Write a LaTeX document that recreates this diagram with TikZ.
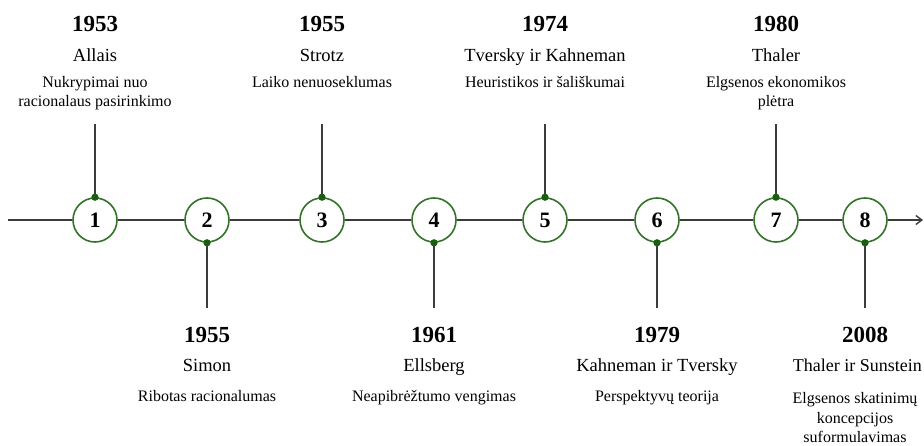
\documentclass[tikz,border=0pt]{standalone}
\usepackage{fontspec}
\setmainfont{Liberation Serif}
\usetikzlibrary{arrows.meta}
\definecolor{ringgreen}{RGB}{50,115,40}
\definecolor{dotgreen}{RGB}{25,95,15}
\definecolor{linegray}{RGB}{60,60,60}
\tikzset{
  ev/.style={circle, draw=ringgreen, line width=1.6pt, fill=white, minimum size=44pt, inner sep=0pt, font=\fontsize{22}{24}\selectfont\bfseries},
  gdot/.style={circle, fill=dotgreen, minimum size=7pt, inner sep=0pt},
  axis/.style={draw=linegray, line width=1.6pt},
  stem/.style={draw=linegray, line width=1.6pt},
  yr/.style={anchor=base, inner sep=0pt, font=\fontsize{23}{25}\selectfont\bfseries},
  nm/.style={anchor=base, inner sep=0pt, font=\fontsize{18.5}{20}\selectfont},
  ds/.style={anchor=base, inner sep=0pt, font=\fontsize{16}{18}\selectfont},
}
\begin{document}
\begin{tikzpicture}[x=1pt,y=-1pt]
\useasboundingbox (0,0) rectangle (924,446);
% events
\foreach \i/\x in {1/95,2/207,3/322,4/434,5/545,6/657,7/776,8/865}{
  \node[ev] (c\i) at (\x,220) {\i};
}
% axis
\coordinate (start) at (8,220);
\coordinate (end) at (923,220);
\draw[axis] (start) -- (c1);
\draw[axis] (c1) -- (c2);
\draw[axis] (c2) -- (c3);
\draw[axis] (c3) -- (c4);
\draw[axis] (c4) -- (c5);
\draw[axis] (c5) -- (c6);
\draw[axis] (c6) -- (c7);
\draw[axis] (c7) -- (c8);
\draw[axis,-{Straight Barb[length=6pt,width=9pt,line width=1.4pt]}] (c8) -- (end);
% stems up
\foreach \i/\x in {1/95,3/322,5/545,7/776}{
  \coordinate (t\i) at (\x,124);
  \node[gdot] (d\i) at (c\i.north) {};
  \draw[stem] (t\i) -- (d\i.center);
  \node[gdot] at (c\i.north) {};
}
% stems down
\foreach \i/\x in {2/207,4/434,6/657,8/865}{
  \coordinate (t\i) at (\x,308);
  \node[gdot] (d\i) at (c\i.south) {};
  \draw[stem] (t\i) -- (d\i.center);
  \node[gdot] at (c\i.south) {};
}
% top labels
\node[yr] (y1) at (95,32) {1953};
\node[nm] (n1) at (95,62) {Allais};
\node[ds] (a1) at (95,88) {Nukrypimai nuo};
\node[ds] (b1) at (95,107) {racionalaus pasirinkimo};

\node[yr] (y3) at (322,32) {1955};
\node[nm] (n3) at (322,62) {Strotz};
\node[ds] (a3) at (322,88) {Laiko nenuoseklumas};

\node[yr] (y5) at (545,32) {1974};
\node[nm] (n5) at (545,62) {Tversky ir Kahneman};
\node[ds] (a5) at (545,88) {Heuristikos ir šališkumai};

\node[yr] (y7) at (776,32) {1980};
\node[nm] (n7) at (776,62) {Thaler};
\node[ds] (a7) at (776,88) {Elgsenos ekonomikos};
\node[ds] (b7) at (776,107) {plėtra};
% bottom labels
\node[yr] (y2) at (207,343) {1955};
\node[nm] (n2) at (207,371) {Simon};
\node[ds] (a2) at (207,401) {Ribotas racionalumas};

\node[yr] (y4) at (434,343) {1961};
\node[nm] (n4) at (434,371) {Ellsberg};
\node[ds] (a4) at (434,401) {Neapibrėžtumo vengimas};

\node[yr] (y6) at (657,343) {1979};
\node[nm] (n6) at (657,371) {Kahneman ir Tversky};
\node[ds] (a6) at (657,401) {Perspektyvų teorija};

\node[yr] (y8) at (865,343) {2008};
\node[nm, anchor=base east, font=\fontsize{18}{20}\selectfont] (n8) at (922,371) {Thaler ir Sunstein};
\node[ds] (a8) at (855,403) {Elgsenos skatinimų};
\node[ds] (b8) at (855,423) {koncepcijos};
\node[ds] (e8) at (855,442) {suformulavimas};
\end{tikzpicture}
\end{document}
